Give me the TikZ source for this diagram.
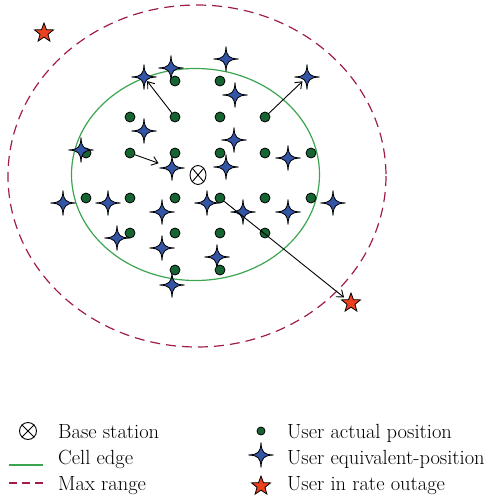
\documentclass[tikz,border=0pt]{standalone}
\usetikzlibrary{shapes.geometric,arrows.meta}
\definecolor{celledge}{RGB}{60,165,80}
\definecolor{maxrange}{RGB}{160,30,70}
\definecolor{dotgreen}{RGB}{22,100,50}
\definecolor{starblue}{RGB}{52,84,165}
\definecolor{outred}{RGB}{235,65,30}
\tikzset{
  dotnode/.style={circle,draw=black,line width=0.8pt,fill=dotgreen,minimum size=10pt,inner sep=0pt},
  ptnode/.style={circle,inner sep=0pt,minimum size=0pt},
  redstar/.style={star,star points=5,star point ratio=2.4,draw=black,line width=0.8pt,fill=outred,minimum size=20pt,inner sep=0pt},
  bsnode/.style={ellipse,draw=black,line width=0.9pt,inner sep=0pt,minimum width=16pt,minimum height=19pt},
  conn/.style={draw=black,line width=0.9pt,-{Straight Barb[length=6pt,width=9pt]}},
  celllink/.style={draw=celledge,line width=1.2pt},
  rangelink/.style={draw=maxrange,line width=1.2pt,dash pattern=on 10pt off 6pt},
  legtext/.style={anchor=base west,inner sep=0pt,font=\fontsize{20.5}{24}\selectfont},
  fourstar/.pic={\path[draw=black,line width=0.8pt,fill=starblue]
    (0,12.5) .. controls (0.6,2.5) and (2.5,0.6) .. (12.5,0)
    .. controls (2.5,-0.6) and (0.6,-2.5) .. (0,-12.5)
    .. controls (-0.6,-2.5) and (-2.5,-0.6) .. (-12.5,0)
    .. controls (-2.5,0.6) and (-0.6,2.5) .. cycle;}
}
\newcommand\bstar[2]{\node[ptnode] (#1) at (#2) {}; \pic at (#1) {fourstar};}
\begin{document}
\begin{tikzpicture}[x=1pt,y=-1pt]
\useasboundingbox (0,0) rectangle (498,501);
% ranges
\draw[rangelink] (197,176) ellipse [x radius=189, y radius=171];
\draw[celllink] (195.5,174.5) ellipse [x radius=124, y radius=106];
% equivalent positions
\bstar{s1}{144,77}
\bstar{s2}{171,68}
\bstar{s3}{226,59}
\bstar{s4}{235,95}
\bstar{s5}{144,131}
\bstar{s6}{234,140}
\bstar{s8}{172,168}
\bstar{s9}{226,167}
\bstar{s10}{63,203}
\bstar{s11}{108,203}
\bstar{s12}{162,212}
\bstar{s13}{207,203}
\bstar{s14}{243,212}
\bstar{s15}{117,238}
\bstar{s16}{307,77}
\bstar{s17}{288,158}
\bstar{s18}{288,212}
\bstar{s19}{333,203}
\bstar{s20}{162,248}
\bstar{s21}{217,257}
\bstar{s22}{172,285}
% actual positions
\node[dotnode] (d11) at (175,81) {};
\node[dotnode] (d12) at (220,81) {};
\node[dotnode] (d21) at (130,117) {};
\node[dotnode] (d22) at (175,117) {};
\node[dotnode] (d23) at (220,117) {};
\node[dotnode] (d24) at (265,117) {};
\node[dotnode] (d31) at (86,153) {};
\node[dotnode] (d32) at (130,153) {};
\node[dotnode] (d33) at (175,153) {};
\node[dotnode] (d34) at (220,153) {};
\node[dotnode] (d35) at (265,153) {};
\node[dotnode] (d36) at (311,153) {};
\node[dotnode] (d41) at (86,198) {};
\node[dotnode] (d42) at (130,198) {};
\node[dotnode] (d43) at (175,198) {};
\node[dotnode] (d44) at (220,198) {};
\node[dotnode] (d45) at (265,198) {};
\node[dotnode] (d46) at (311,198) {};
\node[dotnode] (d51) at (130,233) {};
\node[dotnode] (d52) at (175,233) {};
\node[dotnode] (d53) at (220,233) {};
\node[dotnode] (d54) at (265,233) {};
\node[dotnode] (d61) at (175,270) {};
\node[dotnode] (d62) at (220,270) {};
\bstar{s7}{81,150}
% base station
\node[bsnode] (bs) at (198,175) {};
\draw[line width=0.9pt] (bs.north west) -- (bs.south east) (bs.north east) -- (bs.south west);
% outage users
\node[redstar] (r1) at (44,33) {};
\node[redstar] (r2) at (351,303) {};
% moves
\draw[conn,shorten >=5pt] (d22) -- (s1);
\draw[conn,shorten >=14pt] (d32) -- (s8);
\draw[conn,shorten >=6pt] (d24) -- (s16);
\draw[conn,shorten >=3pt] (d44) -- (r2);
% legend
\node[circle,draw=black,line width=0.9pt,inner sep=0pt,minimum size=17pt] (lbs) at (28,431) {};
\draw[line width=0.9pt] (lbs.north west) -- (lbs.south east) (lbs.north east) -- (lbs.south west);
\node[legtext] (tbs) at (58,438) {Base station};
\coordinate (lc1) at (9,465);
\coordinate (lc2) at (43,465);
\draw[celllink] (lc1) -- (lc2);
\node[legtext] (tce) at (58,464) {Cell edge};
\coordinate (lm1) at (9,483);
\coordinate (lm2) at (43,483);
\draw[draw=maxrange,line width=1.2pt,dash pattern=on 8pt off 5pt] (lm1) -- (lm2);
\node[legtext] (tmr) at (58,490) {Max range};
\node[dotnode,minimum size=8pt] (ld) at (261,431) {};
\node[legtext] (tua) at (287,438) {User actual position};
\bstar{ls}{261,455}
\node[legtext] (tue) at (287,464) {User equivalent-position};
\node[redstar] (lr) at (261,486) {};
\node[legtext] (tur) at (287,490) {User in rate outage};
\end{tikzpicture}
\end{document}
